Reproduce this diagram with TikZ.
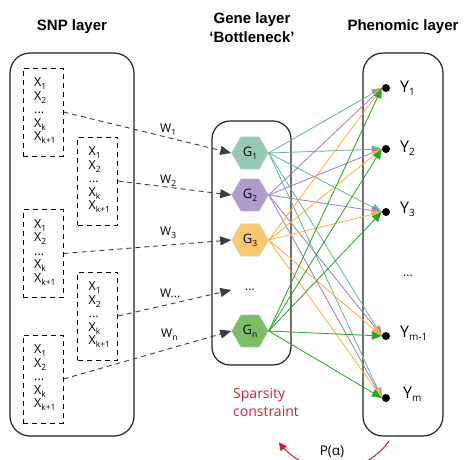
\documentclass[tikz,border=0pt]{standalone}
\usepackage{fontspec}
\setmainfont{Open Sans}
\newfontfamily\titlefont{Liberation Sans}
\usetikzlibrary{arrows.meta,shapes.geometric}

% palette
\definecolor{tealF}{RGB}{150,200,180}
\definecolor{purpF}{RGB}{175,155,205}
\definecolor{orngF}{RGB}{252,200,110}
\definecolor{grnF}{RGB}{125,190,100}
\definecolor{tealE}{RGB}{105,183,155}
\definecolor{purpE}{RGB}{160,130,200}
\definecolor{orngE}{RGB}{250,178,60}
\definecolor{grnE}{RGB}{45,165,45}
\definecolor{cred}{RGB}{205,35,55}
\definecolor{frame}{RGB}{35,35,35}
\definecolor{wire}{RGB}{60,60,60}

% lowered subscripts
\newcommand{\lsub}[1]{\raisebox{-3pt}{\fontsize{8.5}{8.5}\selectfont #1}}
\newcommand{\ysub}[1]{\raisebox{-3.5pt}{\fontsize{10}{10}\selectfont #1}}

\tikzset{
  title/.style={font=\titlefont\bfseries\fontsize{15}{19}\selectfont, align=center, inner sep=0},
  layerbox/.style={draw=frame, line width=1.2pt, rounded corners=20pt},
  snpbox/.style={draw=black, line width=1pt, dash pattern=on 5pt off 4pt,
    minimum width=40pt, minimum height=88pt, inner sep=0},
  xlist/.style={font=\fontsize{12.5}{13.5}\selectfont, align=left, inner sep=0, anchor=north west},
  wlabel/.style={font=\fontsize{12}{12}\selectfont, inner sep=0, anchor=base west},
  wire/.style={draw=wire, line width=0.9pt, dash pattern=on 5pt off 4pt,
    -{Triangle[length=11pt,width=9pt]}},
  gene/.style={regular polygon, regular polygon sides=6, minimum size=37pt, inner sep=0,
    draw=black!18, line width=0.5pt, font=\fontsize{13}{13}\selectfont},
  edge/.style={line width=0.8pt, -{Triangle[length=10pt,width=8pt]}},
  ydot/.style={circle, fill=black, minimum size=8pt, inner sep=0},
  ylabel/.style={font=\fontsize{16}{16}\selectfont, inner sep=0, anchor=base west},
}

\begin{document}
\begin{tikzpicture}[x=1pt, y=-1pt]
\clip (0,0) rectangle (464,459);

% headings
\node[title] at (72,27) {SNP layer};
\node[title] at (252,27.5) {Gene layer\\‘Bottleneck’};
\node[title] at (403,27) {Phenomic layer};

% layer frames
\draw[layerbox] (10,53) rectangle (134,436);
\draw[layerbox, rounded corners=18pt] (212,121) rectangle (291,365);
\draw[layerbox] (363,53) rectangle (443,436);

% SNP groups
\foreach \n/\x/\y in {s1/43/112, s2/97.5/181, s3/43/253.5, s4/97.5/316, s5/43/379}{
  \node[snpbox] (\n) at (\x,\y) {};
  \node[xlist] at ([xshift=11.5pt,yshift=-10pt]\n.north west)
    {X\lsub{1}\\X\lsub{2}\\...\\X\lsub{k}\\X\lsub{k+1}};
}

% gene nodes
\node[gene, fill=tealF] (g1) at (250,153) {G\lsub{1}};
\node[gene, fill=purpF] (g2) at (250,195) {G\lsub{2}};
\node[gene, fill=orngF] (g3) at (250,240) {G\lsub{3}};
\node[minimum width=37pt, inner sep=0, font=\fontsize{12}{12}\selectfont] (gd) at (250,290) {...};
\node[gene, fill=grnF] (gn) at (250,331) {G\lsub{n}};

% weighted inputs
\draw[wire] (s1.east) -- (g1.west);
\draw[wire] (s2.east) -- (g2.west);
\draw[wire] (s3.east) -- (g3.west);
\draw[wire] (s4.east) -- (gd.west);
\draw[wire] (s5.east) -- (gn.west);
\node[wlabel] at (160,132) {W\lsub{1}};
\node[wlabel] at (160,183) {W\lsub{2}};
\node[wlabel] at (160,235) {W\lsub{3}};
\node[wlabel] at (160,297) {W...};
\node[wlabel] at (161,337) {W\lsub{n}};

% phenotypes
\node[ydot] (y1) at (386,88) {};
\node[ydot] (y2) at (386,149) {};
\node[ydot] (y3) at (386,212) {};
\node[ydot] (ym1) at (386,336) {};
\node[ydot] (ym) at (386,398) {};
\node[ylabel] at (400,92) {Y\ysub{1}};
\node[ylabel] at (400,152) {Y\ysub{2}};
\node[ylabel] at (400,213) {Y\ysub{3}};
\node[inner sep=0, font=\fontsize{12}{12}\selectfont] (yd) at (408,276) {...};
\node[ylabel] at (400,337) {Y\ysub{m-1}};
\node[ylabel] at (403,398) {Y\ysub{m}};

% gene-to-phenotype connections
\foreach \g/\c in {g1/tealE, g2/purpE, g3/orngE, gn/grnE}{
  \foreach \t in {y1,y2,y3,ym1,ym}{
    \draw[edge, draw=\c, fill=\c] (\g.east) -- (\t.west);
  }
}

% sparsity prior
\node[align=left, anchor=west, inner sep=0, text=cred, font=\fontsize{14}{18}\selectfont]
  (sp) at (233,402) {Sparsity\\constraint};
\node[inner sep=0, anchor=base, font=\fontsize{13.5}{14}\selectfont] (pa) at (332,455.5) {P(α)};
\draw[cred, line width=1pt, -{Triangle[length=8pt,width=8pt]}]
  plot[domain=35.5:143.1, samples=60, smooth] ({333.5+68.2*cos(\x)}, {401.4+68.2*sin(\x)});
\end{tikzpicture}
\end{document}
